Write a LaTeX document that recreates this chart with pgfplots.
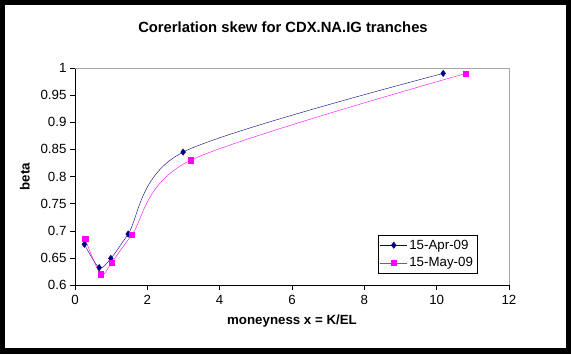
\documentclass[border=0pt]{standalone}
\usepackage{pgfplots}
\pgfplotsset{compat=1.18}
\usepackage{fontspec}
\setmainfont{Liberation Sans}
\definecolor{navyc}{RGB}{0,0,128}
\definecolor{magc}{RGB}{255,0,255}
\begin{document}
\begin{tikzpicture}[x=1pt,y=1pt]
\fill[black] (0,0) rectangle (571,354);
\fill[white] (5,6) rectangle (566,349);
\node[font=\bfseries\fontsize{14.8}{16}\selectfont] at (283,327) {Corerlation skew for CDX.NA.IG tranches};
\begin{axis}[
  at={(75pt,69pt)}, anchor=south west,
  scale only axis, width=434pt, height=217pt,
  xmin=0, xmax=12, ymin=0.6, ymax=1,
  xtick={0,2,...,12},
  ytick={0.6,0.65,0.7,0.75,0.8,0.85,0.9,0.95,1},
  yticklabels={0.6,0.65,0.7,0.75,0.8,0.85,0.9,0.95,1},
  axis x line*=bottom, axis y line*=left,
  axis line style={black, -},
  tick align=outside, tick style={black, thin}, major tick length=5pt,
  /pgf/number format/assume math mode=true,
  ticklabel style={font=\fontsize{13.3}{15}\selectfont},
  xticklabel style={yshift=-2pt},
  xlabel={\bfseries moneyness x = K/EL},
  ylabel={\bfseries beta},
  label style={font=\bfseries\fontsize{13.3}{15}\selectfont},
  xlabel style={yshift=-3pt},
  ylabel style={yshift=4pt},
  legend style={at={(0.697,0.055)}, anchor=south west, draw=black, font=\fontsize{13.3}{15}\selectfont, row sep=3pt, inner sep=2.5pt},
  legend image code/.code={\draw[mark repeat=2,mark phase=2] plot coordinates {(0cm,0cm) (0.47cm,0cm) (0.94cm,0cm)};},
  legend cell align=left,
  clip=false,
]
\draw[gray!70] (rel axis cs:0,1) -- (rel axis cs:1,1) -- (rel axis cs:1,0);
\addplot[navyc, thin, smooth, tension=0.5, mark=diamond*, mark size=3.2pt, mark options={fill=navyc}]
  coordinates {(0.26,0.675) (0.67,0.632) (0.99,0.649) (1.47,0.694) (2.99,0.845) (10.18,0.990)};
\addlegendentry{15-Apr-09}
\addplot[magc, thin, smooth, tension=0.5, mark=square*, mark size=2.6pt, mark options={fill=magc}]
  coordinates {(0.28,0.685) (0.71,0.620) (1.01,0.641) (1.57,0.692) (3.2,0.830) (10.81,0.990)};
\addlegendentry{15-May-09}
\end{axis}
\end{tikzpicture}
\end{document}
